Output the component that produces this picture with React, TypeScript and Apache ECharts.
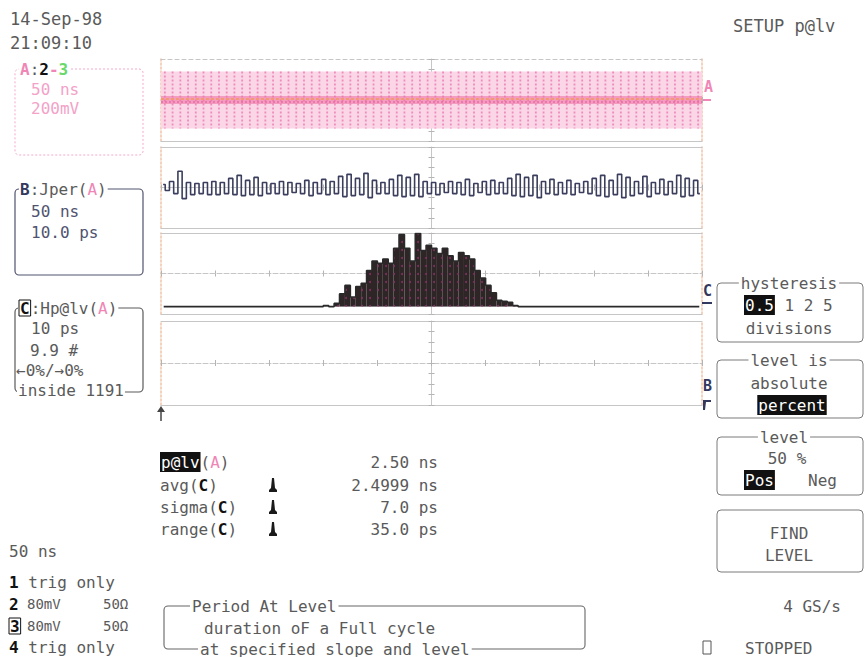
import React, { useEffect, useRef } from "react";
import * as echarts from "echarts";

// ---------- data ----------
// Panel A: clock band (mV) and visible stripe count
const clockHighMv = 555;
const clockLowMv = -555;
const clockStripes = 70;

// Panel B: period jitter track (ps), high/low per cycle
const jitterTrackPs = [
  3, -3, 6, -6, 16, -11, 5, -7, 4, -6, 5, -7, 6, -7, 5, -6,
  9, -7, 12, -8, 7, -7, 10, -8, 5, -6, 4, -6, 6, -7, 5, -5,
  4, -6, 7, -8, 5, -6, 8, -7, 6, -6, 11, -9, 13, -8, 9, -7,
  14, -10, 7, -6, 5, -6, 8, -8, 12, -9, 10, -8, 13, -9, 6, -6,
  5, -7, 4, -5, 6, -6, 5, -7, 8, -8, 4, -5, 6, -7, 7, -6,
  5, -6, 9, -8, 13, -9, 10, -8, 12, -10, 6, -6, 8, -7, 5, -6,
  7, -7, 4, -5, 6, -6, 9, -8, 12, -9, 7, -7, 13, -10, 10, -8,
  6, -6, 11, -9, 5, -6, 8, -7, 6, -6, 12, -9, 9, -8, 7, -6,
];
const jitterSpanNs = 500;

// Panel C: histogram of period (1 ps bins)
const histStartPs = 2450;
const histBinCount = 100;
const histFirstBin = 30;
const histCounts = [
  1, 0, 3, 12, 20, 9, 19, 22, 34, 43, 41, 45, 41, 55, 68, 55, 43, 69,
  53, 58, 55, 50, 55, 48, 43, 51, 48, 45, 34, 27, 20, 13, 6, 5, 4, 1,
];

// Measurement table
const statLabels = ["avg", "sigma", "range"];
const statValues = ["2.4999 ns", "7.0 ps", "35.0 ps"];
const mainValue = "2.50 ns";

// ---------- layout ----------
const GL = 161;
const GW = 541;
const panels = [
  { top: 59, h: 82, topDash: true },
  { top: 147, h: 81, topDash: false },
  { top: 233, h: 81, topDash: false },
  { top: 321, h: 84, topDash: false },
];
const LINE = "#c6c6c6";
const TICK = "#b4b4b4";
const EDGE = "#f2c3a8";
const FONT = "'DejaVu Sans Mono', 'Liberation Mono', monospace";
const GRAY = "#5a5a5a";
const PINK = "#ef86b6";
const NAVY = "#33385e";

const T = (x: number, y: number, text: string, o: any = {}) => ({
  type: "text",
  x,
  y,
  z: 100,
  style: {
    text,
    fill: o.color || GRAY,
    font: `${o.weight || "normal"} ${o.size || 16}px ${FONT}`,
    fontFamily: FONT,
    fontSize: o.size || 16,
    fontWeight: o.weight || "normal",
    align: o.align || "left",
    textAlign: o.align || "left",
    verticalAlign: "middle",
    textVerticalAlign: "middle",
    backgroundColor: o.bg,
    padding: o.pad,
    rich: o.rich,
  },
});
const R = (x: number, y: number, w: number, h: number, o: any = {}) => ({
  type: "rect",
  z: 90,
  shape: { x, y, width: w, height: h, r: o.r ?? 4 },
  style: {
    fill: o.fill || "none",
    stroke: o.stroke || "#7a7a7a",
    lineWidth: o.lw || 1,
    lineDash: o.dash,
  },
});
const rs = (fill: string, extra: any = {}) => ({
  fill,
  color: fill,
  fontFamily: FONT,
  fontSize: 16,
  ...extra,
});
const richBase = {
  s: rs(GRAY),
  a: rs(PINK),
  k: rs("#111", { fontWeight: "bold" }),
  g: rs("#6ad86a", { fontWeight: "bold" }),
  n: rs(NAVY, { fontWeight: "bold" }),
  nb: rs("#111", { fontWeight: "bold", borderColor: "#111", borderWidth: 1, padding: [0, 1] }),
  h: rs("#fff", { backgroundColor: "#111", padding: [2, 1] }),
};

// pawn-like glyph drawn as a small polygon around (cx, cy)
const pawn = (cx: number, cy: number) => ({
  type: "polygon",
  z: 100,
  shape: {
    points: [
      [cx - 1, cy - 7],
      [cx + 1, cy - 7],
      [cx + 1.5, cy - 2],
      [cx + 2, cy + 3],
      [cx + 4, cy + 5],
      [cx + 4, cy + 7],
      [cx - 4, cy + 7],
      [cx - 4, cy + 5],
      [cx - 2, cy + 3],
      [cx - 1.5, cy - 2],
    ],
  },
  style: { fill: "#1a1a1a" },
});

function buildAxes() {
  const xAxis: any[] = [];
  const yAxis: any[] = [];
  const hid = { show: false };
  panels.forEach((p, i) => {
    const baseX = {
      gridIndex: i,
      type: "value",
      min: 0,
      max: 10,
      axisLabel: hid,
      splitLine: hid,
    };
    xAxis.push({
      ...baseX,
      position: "bottom",
      axisLine: { show: true, onZero: false, lineStyle: { color: LINE, width: 1 } },
      axisTick: hid,
    });
    xAxis.push({
      ...baseX,
      position: "top",
      axisLine: {
        show: true,
        onZero: false,
        lineStyle: { color: LINE, width: 1, type: p.topDash ? [4, 3] : "solid" },
      },
      axisTick: hid,
    });
    xAxis.push({
      ...baseX,
      interval: 1,
      position: "bottom",
      offset: -p.h / 2,
      axisLine: { show: true, onZero: false, lineStyle: { color: LINE, width: 1, type: [5, 2] } },
      axisTick: { show: true, length: 3, lineStyle: { color: TICK } },
    });
    xAxis.push({
      ...baseX,
      interval: 1,
      position: "top",
      offset: -p.h / 2,
      axisLine: { show: false, onZero: false },
      axisTick: { show: true, length: 3, lineStyle: { color: TICK } },
    });
    if (i === 2) {
      xAxis.push({
        gridIndex: i,
        type: "category",
        show: false,
        data: Array.from({ length: histBinCount }, (_, k) => String(histStartPs + k)),
      });
    } else if (i === 1) {
      xAxis.push({ gridIndex: i, type: "value", show: false, min: 0, max: jitterSpanNs });
    } else {
      xAxis.push({ gridIndex: i, type: "value", show: false, min: 0, max: 10 });
    }

    const baseY = {
      gridIndex: i,
      type: "value",
      axisLabel: hid,
      splitLine: hid,
    };
    yAxis.push({
      ...baseY,
      min: -1,
      max: 1,
      position: "left",
      axisLine: { show: true, onZero: false, lineStyle: { color: EDGE, width: 1.5, type: [2, 2] } },
      axisTick: hid,
    });
    yAxis.push({
      ...baseY,
      min: -1,
      max: 1,
      position: "right",
      axisLine: { show: true, onZero: false, lineStyle: { color: EDGE, width: 1.5, type: [2, 2] } },
      axisTick: hid,
    });
    yAxis.push({
      ...baseY,
      min: -4,
      max: 4,
      interval: 1,
      position: "left",
      offset: -GW / 2,
      axisLine: { show: true, onZero: false, lineStyle: { color: LINE, width: 1 } },
      axisTick: { show: true, length: 3, lineStyle: { color: TICK } },
    });
    yAxis.push({
      ...baseY,
      min: -4,
      max: 4,
      interval: 1,
      position: "right",
      offset: -GW / 2,
      axisLine: { show: false, onZero: false },
      axisTick: { show: true, length: 3, lineStyle: { color: TICK } },
    });
    if (i === 0) yAxis.push({ gridIndex: i, type: "value", show: false, min: -800, max: 800 });
    else if (i === 1) yAxis.push({ gridIndex: i, type: "value", show: false, min: -40, max: 40 });
    else if (i === 2) yAxis.push({ gridIndex: i, type: "value", show: false, min: -7, max: 69.5 });
    else yAxis.push({ gridIndex: i, type: "value", show: false, min: -1, max: 1 });
  });
  return { xAxis, yAxis };
}

function buildGraphic() {
  const g: any[] = [];
  // header
  g.push(T(10, 19, "14-Sep-98", { size: 17 }));
  g.push(T(10, 43, "21:09:10", { size: 17 }));
  g.push(T(733, 26, "SETUP p@lv", { size: 17 }));

  // box A
  g.push(R(15, 69, 128, 86, { stroke: "#f4a9ca", dash: [2, 2] }));
  g.push(
    T(19, 69, "{a|A}{s|:}{k|2}{a|-}{g|3}", {
      bg: "#fff",
      pad: [0, 1],
      rich: { ...richBase, a: rs(PINK, { fontWeight: "bold" }) },
    })
  );
  g.push(T(31, 89, "50 ns", { color: "#f3a2c8" }));
  g.push(T(31, 108, "200mV", { color: "#f3a2c8" }));

  // box B
  g.push(R(15, 189, 128, 86, { stroke: "#50546f", lw: 1.2 }));
  g.push(
    T(19, 189, "{n|B}{s|:Jper(}{a|A}{s|)}", {
      bg: "#fff",
      pad: [0, 1],
      rich: richBase,
    })
  );
  g.push(T(31, 211, "50 ns", { color: "#4f5370" }));
  g.push(T(31, 232, "10.0 ps", { color: "#4f5370" }));

  // box C
  g.push(R(15, 308, 128, 84, { stroke: "#5a5a5a", lw: 1.2 }));
  g.push(
    T(18, 308, "{nb|C}{s|:Hp@lv(}{a|A}{s|)}", {
      bg: "#fff",
      pad: [0, 1],
      rich: richBase,
    })
  );
  g.push(T(31, 328, "10 ps"));
  g.push(T(30, 350, "9.9 #"));
  g.push(T(16, 370, "\u21900%/\u21920%"));
  g.push(T(17, 390, "inside 1191", { bg: "#fff", pad: [0, 1] }));

  // markers at right of grid
  g.push(T(704, 87, "A", { color: PINK, size: 15, weight: "bold" }));
  g.push({ type: "rect", z: 100, shape: { x: 703, y: 99, width: 8, height: 2 }, style: { fill: PINK } });
  g.push(T(703, 291, "C", { color: NAVY, size: 15, weight: "bold" }));
  g.push({ type: "rect", z: 100, shape: { x: 702, y: 302, width: 10, height: 2 }, style: { fill: NAVY } });
  g.push(T(703, 386, "B", { color: NAVY, size: 15, weight: "bold" }));
  g.push({
    type: "polygon",
    z: 100,
    shape: { points: [[703, 400], [711, 400], [711, 402], [706, 402], [705, 410], [703, 410]] },
    style: { fill: NAVY },
  });
  // trigger arrow
  g.push({ type: "line", z: 100, shape: { x1: 161, y1: 408, x2: 161, y2: 421 }, style: { stroke: "#444", lineWidth: 1.5 } });
  g.push({ type: "polygon", z: 100, shape: { points: [[157, 412], [161, 406], [165, 412]] }, style: { fill: "#444" } });

  // measurements
  g.push(T(160, 462, "{h|p@lv}{s|(}{a|A}{s|)}", { rich: richBase }));
  g.push(T(438, 462, mainValue, { align: "right" }));
  statLabels.forEach((lab, i) => {
    const y = 485 + i * 22;
    g.push(T(160, y, `{s|${lab}(}{k|C}{s|)}`, { rich: richBase }));
    g.push(pawn(273, y));
    g.push(T(438, y, statValues[i], { align: "right" }));
  });

  // bottom left
  g.push(T(9, 551, "50 ns"));
  g.push(T(9, 582, "{k|1} trig only", { rich: richBase }));
  g.push(T(9, 604, "{k|2}", { rich: richBase }));
  g.push(T(27, 604, "80mV", { size: 14 }));
  g.push(T(103, 604, "50\u03A9", { size: 14 }));
  g.push(T(9, 626, "{nb|3}", { rich: richBase }));
  g.push(T(27, 626, "80mV", { size: 14 }));
  g.push(T(103, 626, "50\u03A9", { size: 14 }));
  g.push(T(9, 647, "{k|4} trig only", { rich: richBase }));

  // period box
  g.push(R(164, 606, 421, 43, { stroke: "#666", lw: 1.1 }));
  g.push(T(190, 606, "Period At Level", { bg: "#fff", pad: [0, 2] }));
  g.push(T(204, 628, "duration oF a Full cycle"));
  g.push(T(198, 649, "at specified slope and level", { bg: "#fff", pad: [0, 2] }));

  // right bottom
  g.push(T(841, 606, "4 GS/s", { align: "right" }));
  g.push(R(703, 641, 8, 13, { stroke: "#555", r: 0 }));
  g.push(T(745, 648, "STOPPED"));

  // right menu
  const BX = 717;
  const BW = 146;
  const CX = 789;
  g.push(R(BX, 283, BW, 59));
  g.push(T(CX, 283, "hysteresis", { align: "center", bg: "#fff", pad: [0, 2] }));
  g.push(T(744, 305, "{h|0.5} 1 2 5", { rich: richBase }));
  g.push(T(CX, 328, "divisions", { align: "center" }));

  g.push(R(BX, 360, BW, 58));
  g.push(T(CX, 360, "level is", { align: "center", bg: "#fff", pad: [0, 2] }));
  g.push(T(CX, 383, "absolute", { align: "center" }));
  g.push(T(CX + 3, 405, "{h|percent}", { align: "center", rich: richBase }));

  g.push(R(BX, 437, BW, 58));
  g.push(T(CX - 5, 437, "level", { align: "center", bg: "#fff", pad: [0, 2] }));
  g.push(T(CX - 2, 458, "50 %", { align: "center" }));
  g.push(T(744, 480, "{h|Pos}", { rich: richBase }));
  g.push(T(808, 480, "Neg"));

  g.push(R(BX, 510, BW, 62));
  g.push(T(CX, 533, "FIND", { align: "center" }));
  g.push(T(CX, 555, "LEVEL", { align: "center" }));
  return g;
}

export default function App() {
  const ref = useRef<HTMLDivElement>(null);
  useEffect(() => {
    if (!ref.current) return;
    const chart = echarts.init(ref.current, undefined, { renderer: "svg" });
    const { xAxis, yAxis } = buildAxes();
    const histData = Array.from({ length: histBinCount }, (_, k) => {
      const j = k - histFirstBin;
      return j >= 0 && j < histCounts.length ? histCounts[j] : 0;
    });
    const jitterData = jitterTrackPs.map((v, i) => [((i + 0.5) * jitterSpanNs) / jitterTrackPs.length, v]);

    const option: any = {
      animation: false,
      backgroundColor: "#ffffff",
      grid: panels.map((p) => ({
        left: GL,
        top: p.top,
        width: GW,
        height: p.h,
        show: false,
        containLabel: false,
        outerBoundsMode: "none",
      })),
      xAxis,
      yAxis,
      series: [
        {
          type: "custom",
          coordinateSystem: "cartesian2d",
          xAxisIndex: 4,
          yAxisIndex: 4,
          silent: true,
          z: 3,
          data: [[0, 10, clockLowMv, clockHighMv]],
          renderItem: (params: any, api: any) => {
            const p0 = api.coord([api.value(0), api.value(3)]);
            const p1 = api.coord([api.value(1), api.value(2)]);
            const c = api.coord([api.value(0), 0]);
            const w = p1[0] - p0[0];
            const children: any[] = [
              {
                type: "rect",
                shape: { x: p0[0], y: p0[1], width: w, height: p1[1] - p0[1] },
                style: { fill: "#fad6e6" },
              },
            ];
            for (let k = 0; k < clockStripes; k++) {
              const x = p0[0] + ((k + 0.5) * w) / clockStripes;
              children.push({
                type: "line",
                shape: { x1: x, y1: p0[1], x2: x, y2: p1[1] },
                style: { stroke: "#ee8cbc", lineWidth: 1.8, lineDash: [2, 2] },
              });
            }
            children.push({
              type: "rect",
              shape: { x: p0[0], y: c[1] - 4, width: w, height: 8 },
              style: { fill: "rgba(236,110,160,0.55)" },
            });
            children.push({
              type: "line",
              shape: { x1: p0[0], y1: c[1] - 1, x2: p1[0], y2: c[1] - 1 },
              style: { stroke: "#f39a72", lineWidth: 2, lineDash: [3, 2] },
            });
            children.push({
              type: "line",
              shape: { x1: p0[0], y1: c[1] + 2, x2: p1[0], y2: c[1] + 2 },
              style: { stroke: "#e2559a", lineWidth: 1.2, lineDash: [2, 2] },
            });
            return { type: "group", children };
          },
        },
        {
          type: "line",
          xAxisIndex: 9,
          yAxisIndex: 9,
          data: jitterData,
          step: "middle",
          symbol: "none",
          z: 3,
          lineStyle: { color: "#3b3e5c", width: 1.6 },
        },
        {
          type: "bar",
          xAxisIndex: 14,
          yAxisIndex: 14,
          data: histData,
          barCategoryGap: "0%",
          barGap: "0%",
          z: 3,
          itemStyle: {
            color: "#2e2526",
            decal: {
              symbol: "circle",
              symbolSize: 0.5,
              color: "rgba(150,50,110,0.8)",
              dashArrayX: 4,
              dashArrayY: 4,
            },
          },
        },
        {
          type: "line",
          xAxisIndex: 14,
          yAxisIndex: 14,
          data: histData,
          step: "middle",
          symbol: "none",
          z: 4,
          lineStyle: { color: "#2a2a2a", width: 1.6 },
        },
      ],
      graphic: { elements: buildGraphic() },
    };
    chart.setOption(option);
    return () => chart.dispose();
  }, []);
  return (
    <div
      ref={ref}
      style={{ position: "fixed", left: 0, top: 0, width: 866, height: 657, background: "#fff" }}
    />
  );
}
